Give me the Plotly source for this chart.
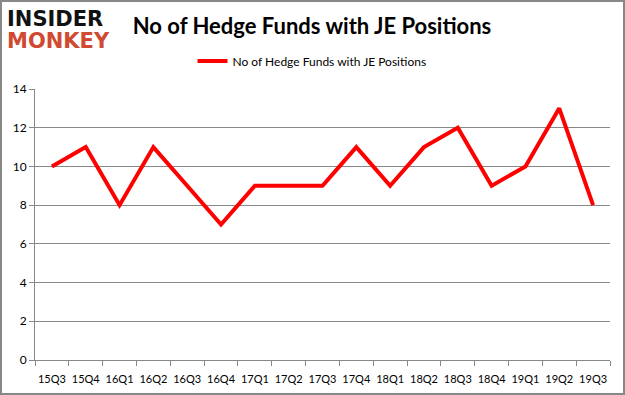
import plotly.graph_objects as go

quarters = ["15Q3", "15Q4", "16Q1", "16Q2", "16Q3", "16Q4", "17Q1", "17Q2", "17Q3",
            "17Q4", "18Q1", "18Q2", "18Q3", "18Q4", "19Q1", "19Q2", "19Q3"]
funds = [10, 11, 8, 11, 9, 7, 9, 9, 9, 11, 9, 11, 12, 9, 10, 13, 8]
series_name = "No of Hedge Funds with JE Positions"
y_ticks = [0, 2, 4, 6, 8, 10, 12, 14]

L, R, T, B = 35, 15, 89, 35
PW, PH = 625 - L - R, 395 - T - B

def px(x):
    return (x - L) / PW

def py(y):
    return 1 - (y - T) / PH

fig = go.Figure()
fig.add_trace(go.Scatter(x=quarters, y=funds, mode="lines", name=series_name,
                         line=dict(color="#ff0000", width=4)))

fig.update_layout(
    width=625, height=395,
    margin=dict(l=L, r=R, t=T, b=B, autoexpand=False),
    paper_bgcolor="white", plot_bgcolor="white",
    font=dict(family="Lato, sans-serif", color="#000000"),
    title=dict(text="<b>No of Hedge Funds with JE Positions</b>", x=312 / 625, xanchor="center",
               y=1 - 26 / 395, yanchor="middle", font=dict(size=22, family="Lato, sans-serif")),
    showlegend=True,
    legend=dict(orientation="h", x=px(312), xanchor="center", y=py(61), yanchor="middle",
                font=dict(size=12), itemwidth=30),
    xaxis=dict(type="category", tickson="boundaries", ticks="outside", ticklen=5,
               tickcolor="#888888", showline=True, linecolor="#888888", showgrid=False,
               tickfont=dict(size=11), tickangle=0, range=[-0.5, 16.5],
               ticklabelstandoff=9),
    yaxis=dict(range=[0, 14], tickvals=y_ticks, ticks="outside", ticklen=5,
               tickcolor="#888888", showline=True, linecolor="#888888",
               showgrid=True, gridcolor="#888888", gridwidth=1, zeroline=False,
               tickfont=dict(size=12)),
)
fig.add_shape(type="rect", xref="paper", yref="paper",
              x0=px(1), x1=px(624), y0=py(394), y1=py(1),
              line=dict(color="#888888", width=2))

fig.add_annotation(text="<b>INSIDER</b>", xref="paper", yref="paper",
                   x=px(5), y=py(19), xanchor="left", yanchor="middle",
                   showarrow=False, font=dict(size=21, color="#111111", family="DejaVu Sans"))
fig.add_annotation(text="<b>MONKEY</b>", xref="paper", yref="paper",
                   x=px(5), y=py(41), xanchor="left", yanchor="middle",
                   showarrow=False, font=dict(size=21, color="#d04a32", family="DejaVu Sans"))

fig.write_html("out.html", config={"displayModeBar": False},
               post_script="document.body.style.margin='0';document.body.style.overflow='hidden';")
